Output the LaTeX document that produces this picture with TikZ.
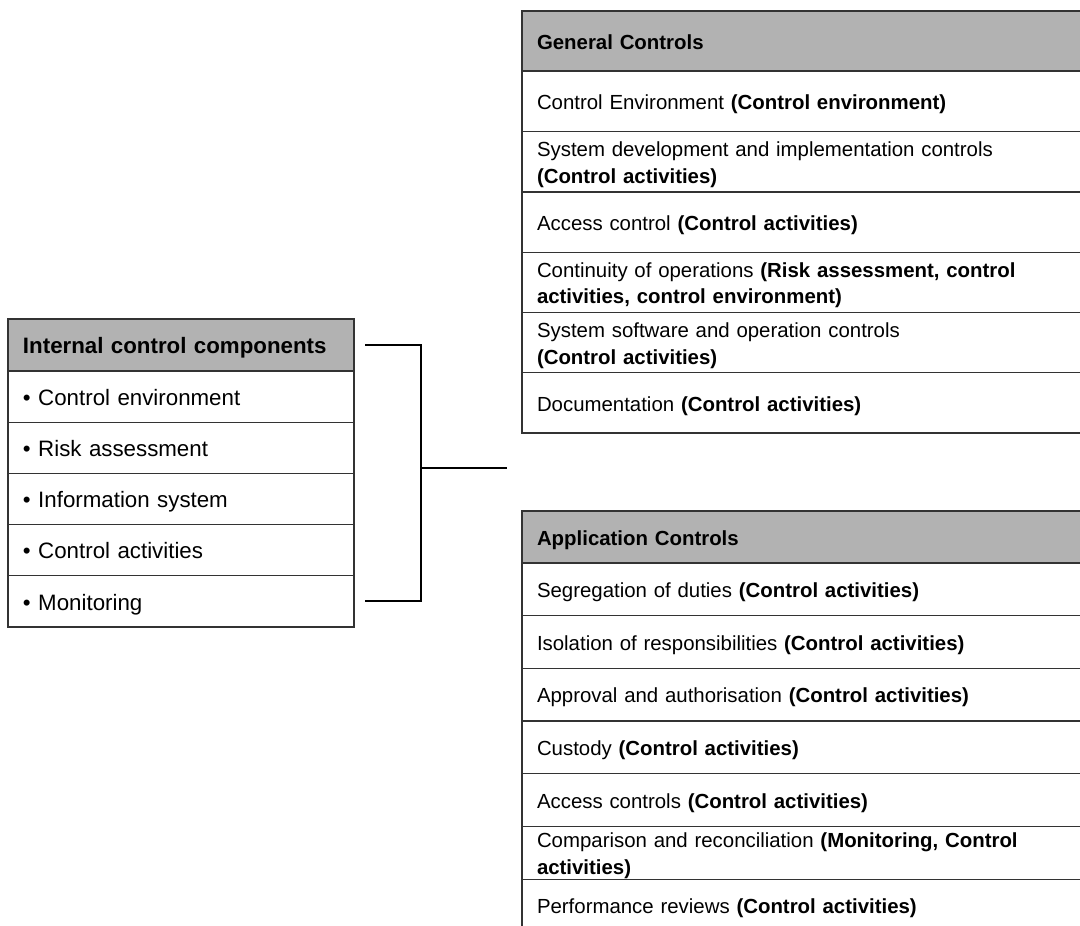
\documentclass[tikz,border=0pt]{standalone}
\usepackage{fontspec}
\setmainfont{Liberation Sans}
\usetikzlibrary{positioning}
\newcommand{\lstrut}{\rule[-4.5pt]{0pt}{26.5pt}}
\newcommand{\rstrut}{\rule[-4.2pt]{0pt}{24.8pt}}

\begin{document}
\begin{tikzpicture}[x=1pt,y=-1pt,
  lcell/.style={draw=black!80,line width=1.3pt,outer sep=0pt,inner xsep=15pt,inner ysep=-2pt,text width=316pt,align=left,minimum height=51.2pt,font=\fontsize{22.3}{27}\selectfont,execute at begin node=\lstrut,execute at end node=\lstrut},
  lhead/.style={lcell,fill=black!30,line width=1.8pt,minimum height=52pt,font=\fontsize{22.3}{27}\selectfont\bfseries},
  gcell/.style={draw=black!80,line width=1.3pt,outer sep=0pt,inner xsep=15pt,inner ysep=-2pt,text width=548pt,align=left,minimum height=60.3pt,font=\fontsize{20.4}{26.5}\selectfont,execute at begin node=\rstrut,execute at end node=\rstrut},
  ghead/.style={gcell,fill=black!30,line width=1.8pt,font=\fontsize{20.4}{26.5}\selectfont\bfseries},
  acell/.style={gcell,minimum height=52.7pt},
  ahead/.style={ghead,minimum height=52pt},
  link/.style={line width=2pt}]
\useasboundingbox (0,0) rectangle (1080,926);
\clip (0,0) rectangle (1080,926);

\node[lhead,anchor=north west] (icc) at (8,319) {Internal control components};
\node[lcell,below=0pt of icc] (icc1) {\textbullet\ Control environment};
\node[lcell,below=0pt of icc1] (icc2) {\textbullet\ Risk assessment};
\node[lcell,below=0pt of icc2] (icc3) {\textbullet\ Information system};
\node[lcell,below=0pt of icc3] (icc4) {\textbullet\ Control activities};
\node[lcell,below=0pt of icc4] (icc5) {\textbullet\ Monitoring};

\node[ghead,anchor=north west] (gc) at (522,11) {General Controls};
\node[gcell,below=0pt of gc] (gc1) {Control Environment \textbf{(Control environment)}};
\node[gcell,below=0pt of gc1] (gc2) {System development and implementation controls\\\textbf{(Control activities)}};
\node[gcell,below=0pt of gc2] (gc3) {Access control \textbf{(Control activities)}};
\node[gcell,below=0pt of gc3] (gc4) {Continuity of operations \textbf{(Risk assessment, control}\\\textbf{activities, control environment)}};
\node[gcell,below=0pt of gc4] (gc5) {System software and operation controls\\\textbf{(Control activities)}};
\node[gcell,below=0pt of gc5] (gc6) {Documentation \textbf{(Control activities)}};

\node[ahead,anchor=north west] (ac) at (522,511) {Application Controls};
\node[acell,below=0pt of ac] (ac1) {Segregation of duties \textbf{(Control activities)}};
\node[acell,below=0pt of ac1] (ac2) {Isolation of responsibilities \textbf{(Control activities)}};
\node[acell,below=0pt of ac2] (ac3) {Approval and authorisation \textbf{(Control activities)}};
\node[acell,below=0pt of ac3] (ac4) {Custody \textbf{(Control activities)}};
\node[acell,below=0pt of ac4] (ac5) {Access controls \textbf{(Control activities)}};
\node[acell,below=0pt of ac5] (ac6) {Comparison and reconciliation \textbf{(Monitoring, Control}\\\textbf{activities)}};
\node[acell,below=0pt of ac6] (ac7) {Performance reviews \textbf{(Control activities)}};

\coordinate (join) at (421,468);
\coordinate (tip) at (507,468);
\draw[link] ([xshift=11pt]icc.east) -| (join) -- (tip);
\draw[link] ([xshift=11pt]icc5.east) -| (join);
\end{tikzpicture}
\end{document}
